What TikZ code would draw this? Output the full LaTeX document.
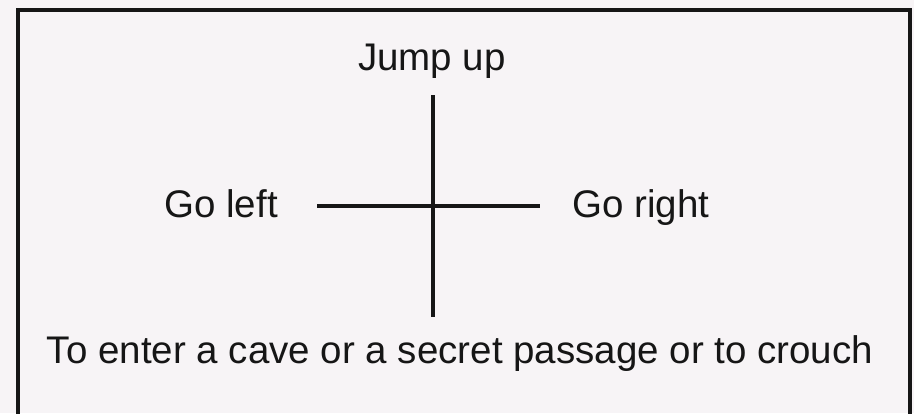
\documentclass[tikz,border=0pt]{standalone}
\usepackage{fontspec}
\setmainfont{Liberation Sans}
\usepackage{tikz}
\usetikzlibrary{positioning}
\definecolor{paper}{RGB}{247,244,246}
\definecolor{ink}{RGB}{22,22,22}
\tikzset{
  label/.style={font=\fontsize{38.5}{46}\selectfont, text=ink, inner sep=0pt},
  stroke/.style={draw=ink, line width=4pt}
}

\begin{document}
\begin{tikzpicture}[x=1pt, y=-1pt]
  % Page and frame
  \clip (0,0) rectangle (914,413);
  \fill[paper] (0,0) rectangle (914,413);
  \draw[stroke] (18,10) rectangle (910,440);

  % Direction labels
  \node[label, anchor=base] (jump) at (432,70) {Jump up};
  \node[label, anchor=base east] (left) at (278,217) {Go left};
  \node[label, anchor=base west] (right) at (572,217) {Go right};
  \node[label, anchor=base] (crouch) at (460,363)
    {To enter a cave or a secret passage or to crouch};

  % Cross
  \coordinate (up) at (433,95);
  \coordinate (down) at (433,317);
  \coordinate (west) at (317,206);
  \coordinate (east) at (540,206);
  \draw[stroke] (up) -- (down);
  \draw[stroke] (west) -- (east);
\end{tikzpicture}
\end{document}
